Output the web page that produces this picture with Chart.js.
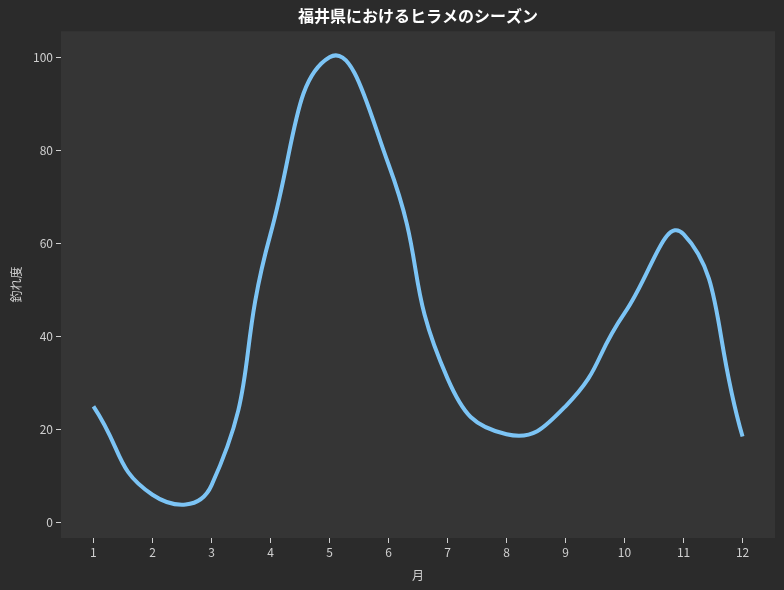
<!DOCTYPE html>
<html>
<head>
<meta charset="utf-8">
<script src="https://cdn.jsdelivr.net/npm/chart.js@4"></script>
<style>
  html, body { margin: 0; padding: 0; background: #2b2b2b; }
  #wrap { width: 784px; height: 590px; }
</style>
</head>
<body>
<div id="wrap"><canvas id="c"></canvas></div>
<script>
"use strict";
// months and fishing score
var months = [1, 2, 3, 4, 5, 6, 7, 8, 9, 10, 11, 12];
var catchScore = [25, 6, 8, 62, 100, 77, 31, 19, 25, 45, 62, 18.5];
var yTicks = [0, 20, 40, 60, 80, 100];

var FONT = '"Noto Sans CJK JP", "Noto Sans", sans-serif';

var bgPlugin = {
    id: 'bg',
    beforeDraw: (chart) => {
        var ctx = chart.ctx, a = chart.chartArea;
        ctx.save();
        ctx.fillStyle = '#2b2b2b';
        ctx.fillRect(0, 0, chart.width, chart.height);
        ctx.fillStyle = '#353535';
        ctx.fillRect(a.left, a.top, a.right - a.left, a.bottom - a.top);
        ctx.restore();
    }
};

var points = months.map((m, i) => ({x: m, y: catchScore[i]}));

new Chart(document.getElementById('c'), {
    type: 'line',
    plugins: [bgPlugin],
    data: {
        datasets: [{
            label: '釣れ度',
            data: points,
            borderColor: '#7cc4f5',
            borderWidth: 4,
            pointRadius: 0,
            tension: 0.5,
            fill: false
        }]
    },
    options: {
        responsive: true,
        maintainAspectRatio: false,
        animation: false,
        layout: { padding: { left: 9, right: 9, top: 0, bottom: 0 } },
        plugins: {
            legend: { display: false },
            tooltip: { enabled: false },
            title: {
                display: true,
                text: '福井県におけるヒラメのシーズン',
                color: '#ffffff',
                fullSize: false,
                font: { family: FONT, size: 16, weight: 'bold' },
                padding: { top: 6, bottom: 6 }
            }
        },
        scales: {
            x: {
                type: 'linear',
                min: 0.45,
                max: 12.55,
                afterBuildTicks: (s) => { s.ticks = months.map(v => ({value: v})); },
                afterFit: (s) => { s.height = 52; },
                border: { display: false },
                grid: { drawOnChartArea: false, drawTicks: true, tickLength: 5, tickColor: '#d0d0d0' },
                ticks: { color: '#d0d0d0', font: { family: FONT, size: 12 }, padding: 2, maxRotation: 0 },
                title: { display: true, text: '月', color: '#d0d0d0', font: { family: FONT, size: 12 }, padding: { top: 2, bottom: 7 } }
            },
            y: {
                min: -3.3,
                max: 105.6,
                afterBuildTicks: (s) => { s.ticks = yTicks.map(v => ({value: v})); },
                afterFit: (s) => { s.width = 52; },
                border: { display: false },
                grid: { drawOnChartArea: false, drawTicks: true, tickLength: 5, tickColor: '#d0d0d0' },
                ticks: { color: '#d0d0d0', font: { family: FONT, size: 12 }, padding: 3 },
                title: { display: true, text: '釣れ度', color: '#d0d0d0', font: { family: FONT, size: 12 }, padding: { top: 0, bottom: 4 } }
            }
        }
    }
});
</script>
</body>
</html>
